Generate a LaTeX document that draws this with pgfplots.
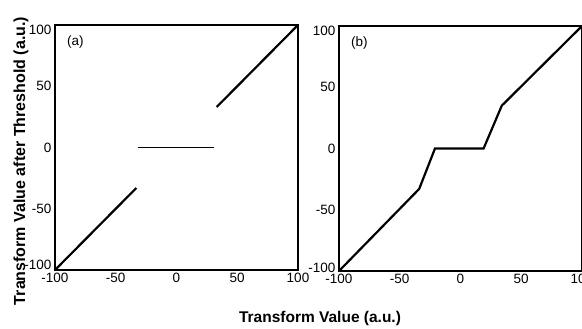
\documentclass[border=0pt]{standalone}
\usepackage{pgfplots}
\pgfplotsset{compat=1.18}
\usepackage{fontspec}
\setmainfont{Liberation Sans}
\begin{document}
\begin{tikzpicture}[x=1pt,y=1pt]
\useasboundingbox (0,0) rectangle (582,329);
\pgfplotsset{
 myax/.style={
  scale only axis, width=243pt, height=245pt,
  xmin=-100,xmax=100,ymin=-100,ymax=100,
  xtick={-100,-50,0,50,100}, ytick={-100,-50,0,50,100},
  major tick length=0pt,
  axis line style={line width=1.8pt},
  tick label style={font=\fontsize{13.5}{15}\selectfont},
  /pgf/number format/assume math mode=true,
 },
 ln/.style={black, solid, line width=2.2pt, mark=none}
}
\begin{axis}[myax, at={(55pt,59pt)}, anchor=south west,
  yticklabels={\raisebox{5pt}[\height][\depth]{-100}, -50, 0, 50, \raisebox{-5pt}[\height][\depth]{100}}]
\addplot[ln] coordinates {(-100,-100) (-33,-33)};
\addplot[ln, line width=1.8pt] coordinates {(-32,0) (31,0)};
\addplot[ln] coordinates {(33,33) (100,100)};
\node[anchor=west, font=\fontsize{13.5}{15}\selectfont] at (rel axis cs:0.035,0.93) {(a)};
\end{axis}
\begin{axis}[myax, at={(339pt,58pt)}, anchor=south west,
  yticklabels={\raisebox{3pt}[\height][\depth]{-100}, -50, 0, 50, \raisebox{-5pt}[\height][\depth]{100}}]
\addplot[ln] coordinates {(-100,-100) (-34,-33) (-21,0) (19,0) (34,35) (100,100)};
\node[anchor=west, font=\fontsize{13.5}{15}\selectfont] at (rel axis cs:0.035,0.93) {(b)};
\end{axis}
\node[rotate=90, font=\bfseries\fontsize{16}{18}\selectfont] at (21,168) {Transform Value after Threshold (a.u.)};
\node[font=\bfseries\fontsize{15.5}{18}\selectfont] at (320,11) {Transform Value (a.u.)};
\end{tikzpicture}
\end{document}
